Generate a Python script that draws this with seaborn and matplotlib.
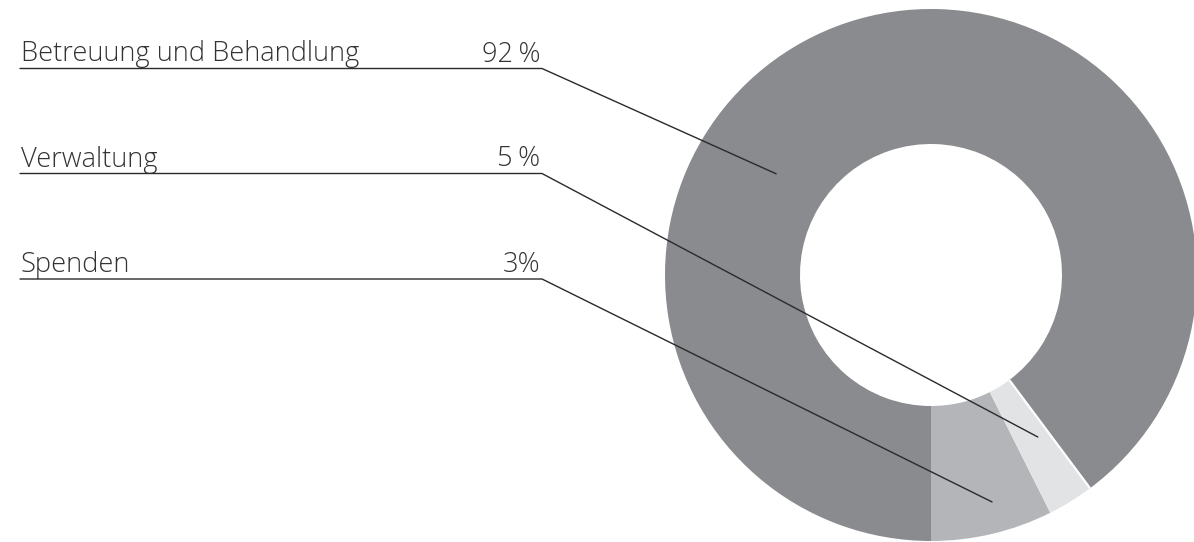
import numpy as np
import matplotlib
matplotlib.use("Agg")
import matplotlib.pyplot as plt
import seaborn as sns

# ---- data ----
categories = ["Spenden", "Verwaltung", "Betreuung und Behandlung"]   # wedge order, counter-clockwise from bottom
slice_values = [7.4, 2.8, 89.8]                                        # measured wedge sizes (%)
pct_labels = ["3%", "5\u2009%", "92\u2009%"]                            # printed labels
label_order = ["Betreuung und Behandlung", "Verwaltung", "Spenden"]    # top-to-bottom on the left
colors = ["#b4b5b8", "#e2e3e5", "#8a8b8f"]

# ---- style ----
sns.set_theme(style="white")
plt.rcParams["font.family"] = ["Open Sans", "DejaVu Sans"]

W, H = 1194, 542
fig = plt.figure(figsize=(W / 100, H / 100), dpi=100)
ax = fig.add_axes([0, 0, 1, 1])

# donut geometry (pixels, y measured from top)
cx, cy_top = 931, 275
cy = H - cy_top
r_out, r_in = 266, 131

wedges, _ = ax.pie(slice_values, colors=colors, startangle=-90, counterclock=True,
                   radius=r_out, center=(cx, cy), frame=True,
                   wedgeprops=dict(width=r_out - r_in, linewidth=0))
ax.set_xlim(0, W)
ax.set_ylim(0, H)
ax.set_aspect("equal")
ax.axis("off")

# white separator between Verwaltung and Betreuung wedges
w_v = wedges[categories.index("Verwaltung")]
th = np.deg2rad(w_v.theta2)
ax.plot([cx + r_in * np.cos(th), cx + r_out * np.cos(th)],
        [cy + r_in * np.sin(th), cy + r_out * np.sin(th)],
        color="white", lw=1.6, solid_capstyle="butt", zorder=3)

# labels with underline + leader
label_rows_y = [68.5, 173.5, 279]     # underline y (pixels from top)
x_left, x_right = 20, 542
anchor = {"Betreuung und Behandlung": (0.619, 185),
          "Verwaltung": (0.67, 194),
          "Spenden": (0.565, 235)}
txt_color = "#333333"
fs = 19.6
for name, yu in zip(label_order, label_rows_y):
    i = categories.index(name)
    w = wedges[i]
    frac, rr = anchor[name]
    ang = np.deg2rad(w.theta1 + frac * (w.theta2 - w.theta1))
    ax_, ay_ = cx + rr * np.cos(ang), cy + rr * np.sin(ang)
    yl = H - yu
    ax.plot([x_left, x_right, ax_], [yl, yl, ay_], color="#2a2a2a", lw=1.0, zorder=4,
            solid_joinstyle="miter")
    ax.text(x_left + 1, yl + 7, name, ha="left", va="baseline", fontsize=fs,
            fontweight="light", color=txt_color)
    ax.text(x_right - 2, yl + 7, pct_labels[i], ha="right", va="baseline", fontsize=fs,
            fontweight="light", color=txt_color)

fig.savefig("out.png", dpi=100, facecolor="white")
